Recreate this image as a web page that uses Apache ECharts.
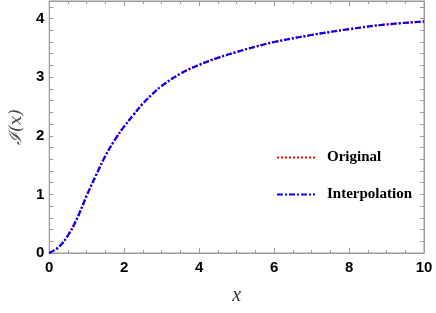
<!DOCTYPE html>
<html>
<head>
<meta charset="utf-8">
<script src="https://cdn.jsdelivr.net/npm/echarts@6/dist/echarts.min.js"></script>
<style>html,body{margin:0;padding:0;background:#fff}#c{width:436px;height:313px}</style>
</head>
<body>
<div id="c"></div>
<script>
const xValues = [0,0.25,0.5,0.75,1,1.25,1.5,1.75,2,2.25,2.5,2.75,3,3.5,4,4.5,5,5.5,6,7,8,9,10];
const originalValues = [0,0.10,0.30,0.60,0.98,1.33,1.66,1.93,2.16,2.36,2.55,2.71,2.85,3.06,3.21,3.33,3.43,3.52,3.60,3.72,3.82,3.90,3.95];
const interpolationValues = [0,0.10,0.30,0.60,0.98,1.33,1.66,1.93,2.16,2.36,2.55,2.71,2.85,3.06,3.21,3.33,3.43,3.52,3.60,3.72,3.82,3.90,3.95];
const seriesNames = ['Original','Interpolation'];
const xTicks = [0,2,4,6,8,10];
const yTicks = [0,1,2,3,4];

const chart = echarts.init(document.getElementById('c'), null, {renderer:'canvas'});
const axisGray = '#9a9a9a';
const labelFont = {color:'#000', fontFamily:'Liberation Sans', fontWeight:'bold', fontSize:15};
function xAx(pos, labels){
  return {type:'value', position:pos, min:xTicks[0], max:xTicks[xTicks.length-1], interval:xTicks[1]-xTicks[0],
    axisLine:{show:true, onZero:false, lineStyle:{color:axisGray, width:1}},
    axisTick:{show:true, inside:true, length:5, lineStyle:{color:axisGray}},
    minorTick:{show:true, splitNumber:4, length:3, lineStyle:{color:axisGray}},
    splitLine:{show:false},
    axisLabel:Object.assign({show:labels, margin:7}, labelFont),
    name: labels ? 'x' : '', nameLocation:'middle', nameGap:33,
    nameTextStyle:{fontFamily:'Liberation Serif', fontStyle:'italic', fontSize:20, color:'#333'}
  };
}
function yAx(pos, labels){
  return {type:'value', position:pos, min:0, max:4.3, interval:0.2,
    axisLine:{show:true, onZero:false, lineStyle:{color:axisGray, width:1}},
    axisTick:{show:true, inside:true, length:4, lineStyle:{color:axisGray}},
    splitLine:{show:false},
    axisLabel:Object.assign({show:labels, margin:5, showMaxLabel:false,
      formatter: v => (yTicks.some(t => Math.abs(t - v) < 1e-6) ? String(Math.round(v)) : '')}, labelFont),
    name: labels ? 'ℐ(x)' : '', nameLocation:'middle', nameGap:20, nameRotate:90,
    nameTextStyle:{fontFamily:'DejaVu Serif', fontStyle:'italic', fontSize:17, color:'#444'}
  };
}
const pairs = arr => xValues.map((x,i)=>[x, arr[i]]);
chart.setOption({
  animation:false,
  backgroundColor:'#fff',
  grid:{left:46, right:12, top:1, bottom:60, containLabel:false, show:true, borderColor:axisGray, borderWidth:1, backgroundColor:'transparent'},
  xAxis:[xAx('bottom', true), xAx('top', false)],
  yAxis:[yAx('left', true), yAx('right', false)],
  legend:{
    orient:'vertical', left:276, top:150, padding:0, itemWidth:38, itemHeight:14, itemGap:22,
    data:seriesNames, itemStyle:{opacity:0},
    textStyle:{fontFamily:'Liberation Serif', fontWeight:'bold', fontSize:15, color:'#000', padding:[0,0,0,7]}
  },
  series:[
    {name:seriesNames[0], type:'line', data:pairs(originalValues), smooth:0.4, symbol:'none', z:2,
      lineStyle:{color:'#ff0000', width:2.2, type:[2,2]}, itemStyle:{color:'#ff0000'}},
    {name:seriesNames[1], type:'line', data:pairs(interpolationValues), smooth:0.4, symbol:'none', z:3,
      lineStyle:{color:'#0000ff', width:2.2, type:[6,2,2,2]}, itemStyle:{color:'#0000ff'}}
  ]
});
</script>
</body>
</html>
